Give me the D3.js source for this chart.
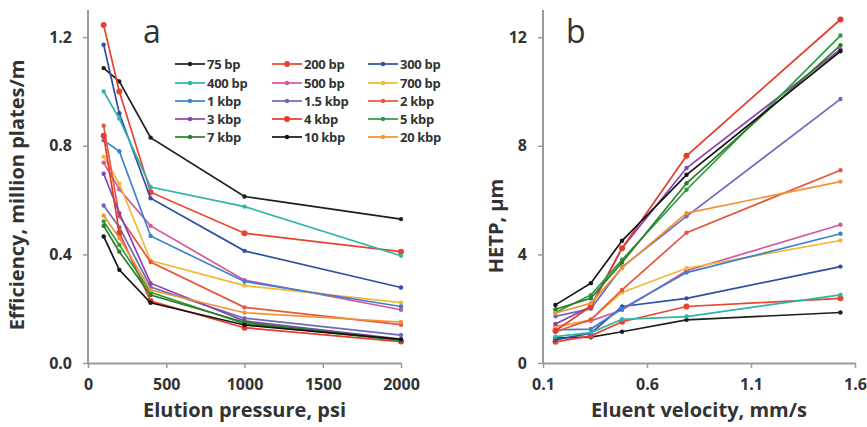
<!DOCTYPE html>
<html>
<head>
<meta charset="utf-8">
<script src="https://cdn.jsdelivr.net/npm/d3@7"></script>
<style>
  body { margin: 0; background: #fff; }
  text { font-family: "Open Sans", sans-serif; font-weight: bold; fill: #333; }
</style>
</head>
<body>
<div id="chart"></div>
<script>
// fragment sizes, legend order (row by row)
const names = ["75 bp", "200 bp", "300 bp", "400 bp", "500 bp", "700 bp",
  "1 kbp", "1.5 kbp", "2 kbp", "3 kbp", "4 kbp", "5 kbp", "7 kbp", "10 kbp", "20 kbp"];
const colors = ["#1e1e1e", "#e8442e", "#2c50a6", "#2fb4a6", "#d6559c", "#f4b733",
  "#3c80d2", "#6b6bbf", "#e5563f", "#8b42ae", "#e63b2b", "#2b9b3c", "#2f7b2c", "#141414", "#f29232"];

// panel a: efficiency (million plates/m) vs elution pressure (psi)
const pressure = [100, 200, 400, 1000, 2000];
const efficiency = [
  [1.086, 1.037, 0.83, 0.613, 0.53],
  [1.245, 1.0, 0.629, 0.478, 0.41],
  [1.172, 0.92, 0.607, 0.413, 0.278],
  [1.0, 0.9, 0.648, 0.576, 0.395],
  [0.738, 0.64, 0.505, 0.305, 0.196],
  [0.76, 0.66, 0.377, 0.285, 0.222],
  [0.82, 0.78, 0.468, 0.30, 0.208],
  [0.58, 0.50, 0.28, 0.165, 0.103],
  [0.874, 0.54, 0.372, 0.205, 0.141],
  [0.697, 0.552, 0.294, 0.155, 0.088],
  [0.837, 0.48, 0.228, 0.13, 0.079],
  [0.521, 0.435, 0.26, 0.145, 0.083],
  [0.505, 0.41, 0.25, 0.15, 0.085],
  [0.466, 0.343, 0.222, 0.14, 0.087],
  [0.543, 0.46, 0.269, 0.185, 0.151]
];

// panel b: HETP (um) vs eluent velocity (mm/s)
const velocity = [0.16, 0.33, 0.48, 0.79, 1.53];
const hetp = [
  [0.92, 0.95, 1.15, 1.59, 1.86],
  [0.78, 1.0, 1.52, 2.08, 2.38],
  [0.85, 1.1, 2.08, 2.38, 3.55],
  [0.97, 1.12, 1.61, 1.71, 2.51],
  [1.35, 1.55, 1.95, 3.4, 5.09],
  [1.32, 1.59, 2.6, 3.49, 4.51],
  [1.22, 1.25, 2.0, 3.33, 4.76],
  [1.72, 2.0, 3.53, 5.4, 9.72],
  [1.15, 1.6, 2.69, 4.8, 7.1],
  [1.44, 2.08, 4.23, 7.18, 11.55],
  [1.19, 2.08, 4.23, 7.63, 12.65],
  [1.86, 2.5, 3.8, 6.38, 12.06],
  [1.98, 2.38, 3.7, 6.62, 11.7],
  [2.14, 2.94, 4.5, 6.93, 11.48],
  [1.84, 2.2, 3.5, 5.52, 6.68]
];

const aTicksX = [0, 500, 1000, 1500, 2000];
const aTicksY = [0, 0.4, 0.8, 1.2];
const bTicksX = [0.1, 0.6, 1.1, 1.6];
const bTicksY = [0, 4, 8, 12];

let width = 867, height = 427;
let svg = d3.select('#chart').append('svg')
  .attr('width', width).attr('height', height);

function panel(opt) {
  let x = d3.scaleLinear().domain(opt.xDomain).range(opt.xRange);
  let y = d3.scaleLinear().domain(opt.yDomain).range([363, 10]);
  let g = svg.append('g');

  // axes
  let xAxis = g.append('g')
    .attr('transform', `translate(0, ${y(0)})`)
    .call(d3.axisBottom(x).tickValues(opt.xTicks).tickFormat(opt.xFormat).tickSize(5).tickSizeOuter(0));
  let yAxis = g.append('g')
    .attr('transform', `translate(${opt.xRange[0]}, 0)`)
    .call(d3.axisLeft(y).tickValues(opt.yTicks).tickFormat(opt.yFormat).tickSize(5).tickSizeOuter(0));
  [xAxis, yAxis].forEach(a => {
    a.select('.domain').attr('stroke', '#9a9a9a').attr('stroke-width', 2);
    a.selectAll('.tick line').attr('stroke', '#9a9a9a').attr('stroke-width', 1.5);
    a.selectAll('.tick text').style('font-size', '16px').attr('fill', '#333');
  });
  xAxis.selectAll('.tick text').attr('dy', '1.2em');
  yAxis.selectAll('.tick text').attr('dx', '-0.5em');
  yAxis.select('.domain').attr('d', `M0,${y(0)}V${y.range()[1]}`);

  // lines + markers
  let line = d3.line().x((d, i) => x(opt.xs[i])).y(d => y(d));
  opt.series.forEach((s, k) => {
    g.append('path').datum(s)
      .attr('fill', 'none').attr('stroke', colors[k]).attr('stroke-width', 1.7)
      .attr('d', line);
    g.selectAll(null).data(s).enter().append('circle')
      .attr('cx', (d, i) => x(opt.xs[i])).attr('cy', d => y(d))
      .attr('r', (k === 1 || k === 10) ? 3 : 2.2)
      .attr('fill', colors[k]);
  });

  // labels
  g.append('text')
    .attr('x', (opt.xRange[0] + opt.xRange[1]) / 2).attr('y', 417)
    .attr('text-anchor', 'middle').style('font-size', '20px')
    .text(opt.xLabel);
  g.append('text')
    .attr('transform', `translate(${opt.yLabelX}, ${opt.yLabelY}) rotate(-90)`)
    .attr('text-anchor', 'middle').style('font-size', '20px')
    .text(opt.yLabel);
  g.append('text')
    .attr('x', opt.letterX).attr('y', 43)
    .style('font-size', '32px').style('font-weight', 'normal').attr('fill', '#111')
    .text(opt.letter);
}

panel({
  xDomain: [0, 2000], xRange: [88, 401], yDomain: [0, 1.3],
  xs: pressure, series: efficiency, xTicks: aTicksX, yTicks: aTicksY,
  xFormat: d3.format('d'), yFormat: d3.format('.1f'),
  xLabel: 'Elution pressure, psi', yLabel: 'Efficiency, million plates/m',
  yLabelX: 24, yLabelY: 195, letter: 'a', letterX: 143
});

panel({
  xDomain: [0.1, 1.6], xRange: [543, 855], yDomain: [0, 13],
  xs: velocity, series: hetp, xTicks: bTicksX, yTicks: bTicksY,
  xFormat: d3.format('.1f'), yFormat: d3.format('d'),
  xLabel: 'Eluent velocity, mm/s', yLabel: 'HETP, µm',
  yLabelX: 503, yLabelY: 226, letter: 'b', letterX: 566
});

// legend inside panel a, 3 columns x 5 rows
let legend = svg.append('g');
let colX = [175, 272, 368], rowY = [64, 83, 101, 119, 137];
names.forEach((n, k) => {
  let cx = colX[k % 3], cy = rowY[Math.floor(k / 3)];
  legend.append('line')
    .attr('x1', cx).attr('x2', cx + 30).attr('y1', cy).attr('y2', cy)
    .attr('stroke', colors[k]).attr('stroke-width', 1.7);
  legend.append('circle')
    .attr('cx', cx + 15).attr('cy', cy)
    .attr('r', (k === 1 || k === 10) ? 3 : 2.2).attr('fill', colors[k]);
  legend.append('text')
    .attr('x', cx + 32).attr('y', cy + 5)
    .style('font-size', '13px').style('letter-spacing', '-0.3px')
    .text(n);
});
</script>
</body>
</html>
